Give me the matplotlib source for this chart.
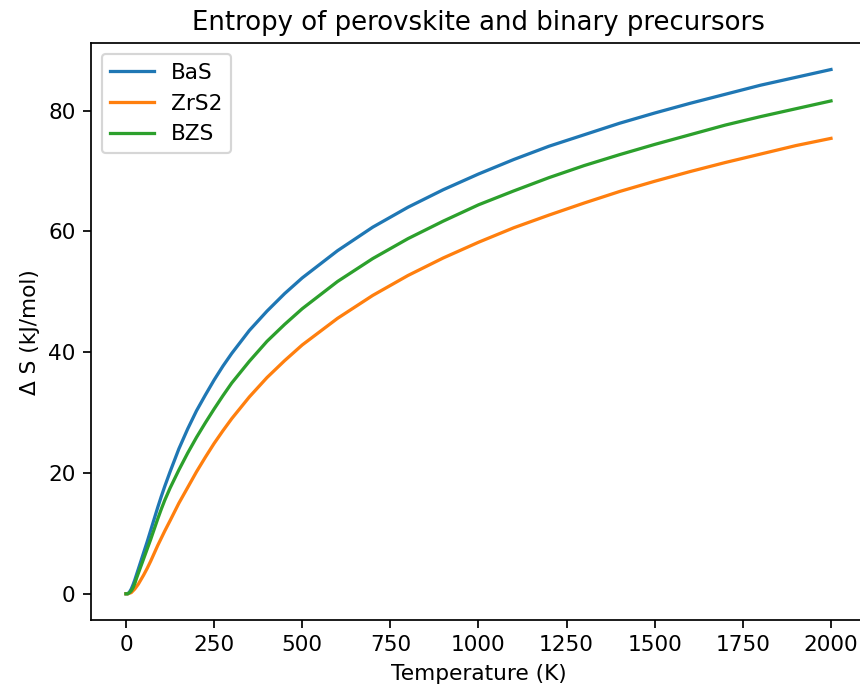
import matplotlib
matplotlib.use("Agg")
import matplotlib.pyplot as plt

temperature = [0, 5, 10, 15, 20, 25, 30, 35, 40, 45, 50, 60, 70, 80, 90, 100, 110,
               125, 150, 175, 200, 225, 250, 275, 300, 350, 400, 450, 500, 600,
               700, 800, 900, 1000, 1100, 1200, 1300, 1400, 1500, 1600, 1700,
               1800, 1900, 2000]

# Entropy values (as labelled, kJ/mol)
s_bas = [0.0, 0.0, 0.3, 0.8, 1.5, 2.3, 3.2, 4.1, 5.0, 5.9, 6.8, 8.6, 10.5, 12.4,
         14.3, 16.1, 17.8, 20.2, 24.0, 27.3, 30.3, 32.9, 35.4, 37.7, 39.8, 43.6,
         46.8, 49.7, 52.3, 56.8, 60.7, 64.0, 66.9, 69.5, 71.9, 74.1, 76.0, 77.9,
         79.6, 81.2, 82.7, 84.2, 85.5, 86.8]
s_zrs2 = [0.0, 0.0, 0.1, 0.2, 0.5, 0.8, 1.2, 1.6, 2.1, 2.6, 3.1, 4.2, 5.4, 6.7,
          8.0, 9.2, 10.4, 12.1, 15.0, 17.6, 20.2, 22.6, 24.9, 27.0, 29.0, 32.6,
          35.8, 38.6, 41.2, 45.6, 49.4, 52.7, 55.6, 58.2, 60.6, 62.7, 64.7, 66.6,
          68.3, 69.9, 71.4, 72.8, 74.2, 75.4]
s_bzs = [0.0, 0.0, 0.2, 0.5, 1.0, 1.7, 2.6, 3.4, 4.2, 5.0, 5.8, 7.4, 9.0, 10.7,
         12.4, 14.0, 15.5, 17.5, 20.5, 23.3, 25.9, 28.3, 30.6, 32.8, 34.9, 38.5,
         41.8, 44.6, 47.2, 51.7, 55.5, 58.8, 61.7, 64.4, 66.7, 68.9, 70.9, 72.7,
         74.4, 76.0, 77.6, 79.0, 80.3, 81.6]

series = [("BaS", s_bas), ("ZrS2", s_zrs2), ("BZS", s_bzs)]

DPI = 156
fig = plt.figure(figsize=(860 / DPI, 687 / DPI), dpi=DPI)
ax = fig.add_axes([90.75 / 860, 67 / 687, (866.25 - 90.75) / 860, (620 - 43.3) / 687])

for name, vals in series:
    ax.plot(temperature, vals, label=name)

ax.set_title("Entropy of perovskite and binary precursors")
ax.set_xlabel("Temperature (K)")
ax.set_ylabel("Δ S (kJ/mol)")
ax.legend(loc="upper left")

fig.savefig("out.png", dpi=DPI)
